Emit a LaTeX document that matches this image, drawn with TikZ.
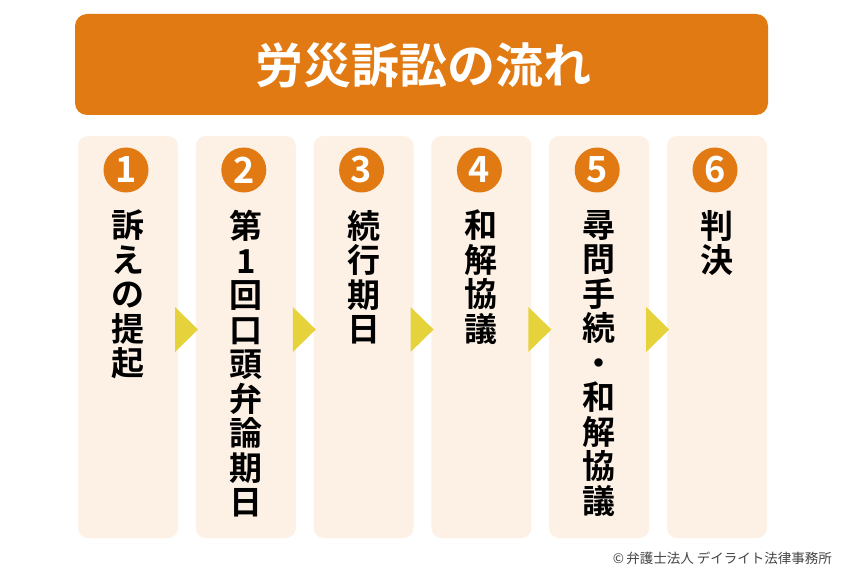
\documentclass[tikz,border=0pt]{standalone}
\usepackage{fontspec}
\newfontfamily\jpb{Noto Sans CJK JP Bold}
\newfontfamily\jpr{Noto Sans CJK JP}
\definecolor{orangeM}{HTML}{E17A12}
\definecolor{colfill}{HTML}{FDF1E6}
\definecolor{arrowY}{HTML}{E6D33C}
\definecolor{copyG}{HTML}{444444}
\begin{document}
\begin{tikzpicture}[x=1pt,y=-1pt,
  titlebox/.style={fill=orangeM,rounded corners=12pt},
  colbox/.style={fill=colfill,rounded corners=10pt},
  numc/.style={circle,fill=orangeM,minimum size=45pt,inner sep=0pt,text=white,font=\jpb\fontsize{36}{36}\selectfont},
  coltext/.style={anchor=north,align=center,inner sep=0pt,font=\jpb\fontsize{33}{34.5}\selectfont},
  flowarrow/.style={fill=arrowY}]
\useasboundingbox (0,0) rectangle (850,572);
\fill[white] (0,0) rectangle (850,572);
\fill[titlebox] (75,14) rectangle (768,115);
\node[text=white,font=\jpb\fontsize{48}{48}\selectfont,inner sep=0pt] (title) at (423,65) {労災訴訟の流れ};
\foreach \i/\num/\txt in {0/1/{訴\\え\\の\\提\\起},1/2/{第\\1\\回\\口\\頭\\弁\\論\\期\\日},2/3/{続\\行\\期\\日},3/4/{和\\解\\協\\議},4/5/{尋\\問\\手\\続\\・\\和\\解\\協\\議},5/6/{判\\決}}{
  \pgfmathsetmacro{\xl}{78+117.8*\i}
  \fill[colbox] (\xl,136) rectangle ++(100,402);
  \node[numc] (n\num) at (\xl+48,170) {\num};
  \node[coltext] (t\num) at (\xl+50,210) {\txt};
}
\foreach \i in {0,...,4}{
  \pgfmathsetmacro{\xr}{78+117.8*\i+97}
  \fill[flowarrow] (\xr,307) -- (\xr+23,329.5) -- (\xr,352) -- cycle;
}
\node[anchor=east,text=copyG,font=\jpr\fontsize{13.5}{13.5}\selectfont,inner sep=0pt] (copy) at (832,558) {©\,弁護士法人 デイライト法律事務所};
\end{tikzpicture}
\end{document}
